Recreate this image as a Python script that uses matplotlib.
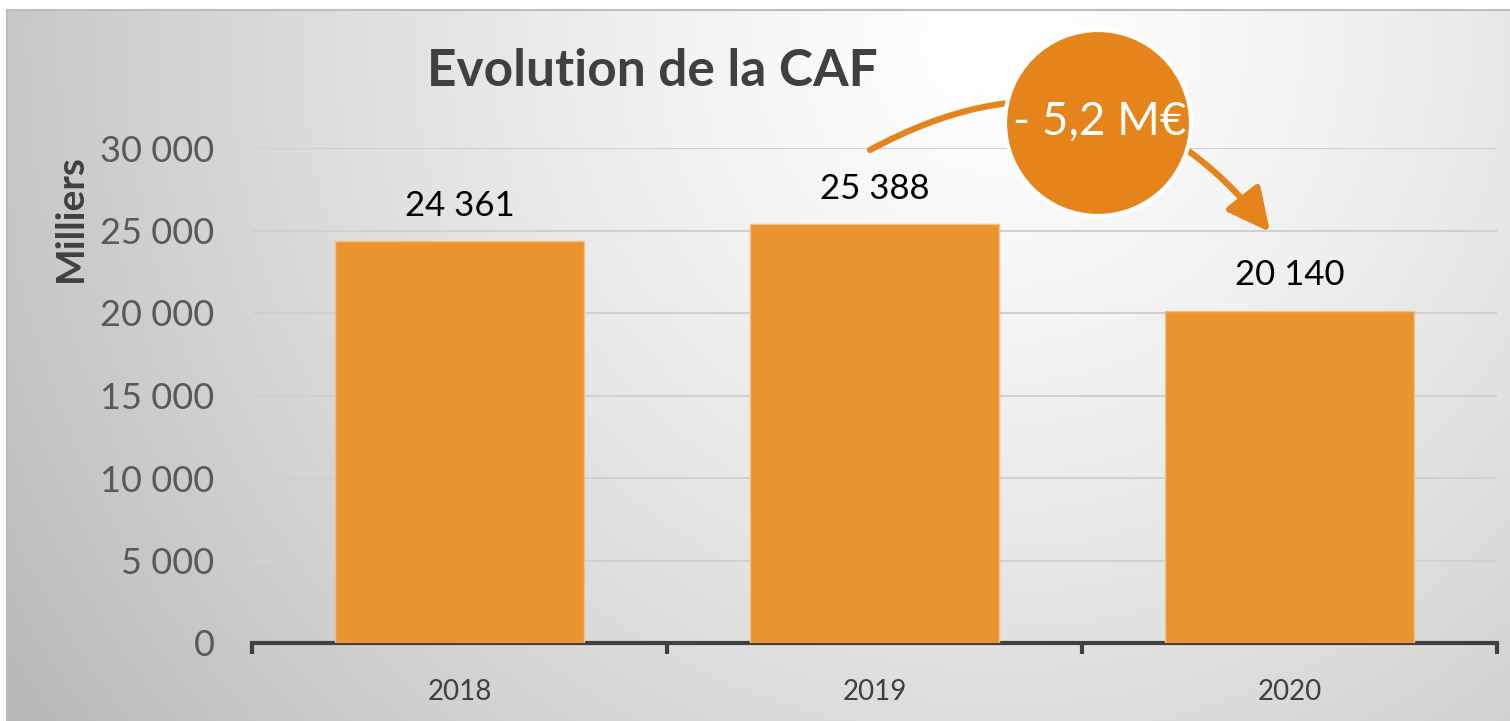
import numpy as np
import matplotlib.pyplot as plt
from matplotlib.patches import Ellipse, FancyArrowPatch
from matplotlib.lines import Line2D

plt.rcParams['font.family'] = ['Lato', 'DejaVu Sans']

years = ['2018', '2019', '2020']
caf = [24361, 25388, 20140]
caf_labels = ['24 361', '25 388', '20 140']
yticks = [0, 5000, 10000, 15000, 20000, 25000, 30000]
ytick_labels = ['0', '5 000', '10 000', '15 000', '20 000', '25 000', '30 000']
delta_label = '- 5,2 M€'

W, H = 1510, 721
fig = plt.figure(figsize=(W / 100, H / 100), dpi=100)

# background: radial grey gradient, light near the top centre-right
bg = fig.add_axes([0, 0, 1, 1], zorder=-5)
yy, xx = np.mgrid[0:H, 0:W]
d = np.hypot(xx - 1000, yy - 40) / 1000.0
v = 1 - 0.22 * d ** 1.3
v = np.clip(v, 0, 1)
v[:10, :] = 1
v[:, :7] = 1
bg.imshow(np.dstack([v, v, v]), extent=[0, W, H, 0], aspect='auto', interpolation='bilinear')
bg.add_line(Line2D([7, W], [10, 10], color='#bdbdbd', lw=1.5))
bg.add_line(Line2D([7, 7], [10, H], color='#bdbdbd', lw=1.5))
bg.set_xlim(0, W)
bg.set_ylim(H, 0)
bg.axis('off')

ax = fig.add_axes([252 / W, 1 - 643 / H, (1497 - 252) / W, (643 - 148) / H])
ax.patch.set_alpha(0)

x = np.arange(len(years))
ax.bar(x, caf, width=0.6, color='#E9942E', edgecolor='#f2c088', lw=1, zorder=3)
for xi, val, lab in zip(x, caf, caf_labels):
    ax.annotate(lab, (xi, val), xytext=(0, 14), textcoords='offset points',
                ha='center', va='bottom', fontsize=25, color='black')

ax.set_xlim(-0.5, len(years) - 0.5)
ax.set_ylim(0, 30000)
ax.set_yticks(yticks)
ax.set_yticklabels(ytick_labels)
ax.tick_params(axis='y', length=0, pad=27, labelsize=26, labelcolor='#595959')
ax.grid(axis='y', color='#d0d0d0', lw=1.5, zorder=0)

ax.set_xticks(np.arange(-0.5, len(years), 1.0))
ax.set_xticklabels([])
ax.set_xticks(x, minor=True)
ax.set_xticklabels(years, minor=True)
ax.tick_params(axis='x', which='major', length=8, width=3, color='#404040', direction='out')
ax.tick_params(axis='x', which='minor', length=0, pad=26, labelsize=20, labelcolor='#404040')

for s in ['top', 'right', 'left']:
    ax.spines[s].set_visible(False)
ax.spines['bottom'].set_color('#404040')
ax.spines['bottom'].set_linewidth(3)

fig.text(652 / W, 1 - 72 / H, 'Evolution de la CAF', ha='center', va='center',
         fontsize=37, fontweight='bold', color='#404040')
fig.text(70 / W, 1 - 218 / H, 'Milliers', ha='center', va='center', rotation=90,
         fontsize=28, fontweight='bold', color='#404040')

# curved arrow and circle showing the drop
orange = '#E4841A'
arrow = FancyArrowPatch((870 / W, 1 - 150 / H), (1270 / W, 1 - 232 / H),
                        transform=fig.transFigure, connectionstyle='arc3,rad=-0.42',
                        arrowstyle='-|>,head_length=1.3,head_width=0.65', mutation_scale=20,
                        color=orange, lw=4.5, shrinkA=0, shrinkB=0, zorder=10)
fig.add_artist(arrow)
circ = Ellipse((1098 / W, 1 - 123 / H), 186 / W, 186 / H, transform=fig.transFigure,
               facecolor=orange, edgecolor='white', lw=3, zorder=11)
fig.add_artist(circ)
fig.text(1100 / W, 1 - 122 / H, delta_label, ha='center', va='center', fontsize=33,
         color='white', zorder=12)

fig.savefig('out.png', dpi=100)
